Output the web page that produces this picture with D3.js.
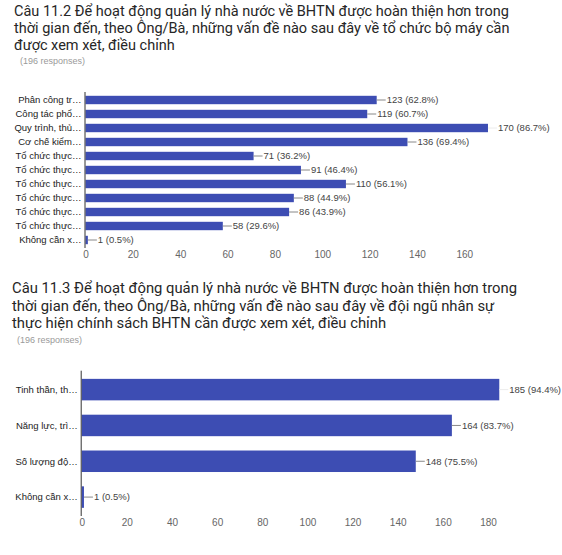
<!DOCTYPE html>
<html><head><meta charset="utf-8">
<script src="https://cdn.jsdelivr.net/npm/d3@7/dist/d3.min.js"></script>
<style>
html,body{margin:0;padding:0;background:#fff;}
svg{display:block;}
</style></head>
<body>
<script>
const title1 = ["Câu 11.2 Để hoạt động quản lý nhà nước về BHTN được hoàn thiện hơn trong",
  "thời gian đến, theo Ông/Bà, những vấn đề nào sau đây về tổ chức bộ máy cần",
  "được xem xét, điều chỉnh"];
const categories1 = ["Phân công tr…","Công tác phổ…","Quy trình, thủ…","Cơ chế kiểm…","Tổ chức thực…","Tổ chức thực…","Tổ chức thực…","Tổ chức thực…","Tổ chức thực…","Tổ chức thực…","Không cần x…"];
const values1 = [123,119,170,136,71,91,110,88,86,58,1];
const percents1 = ["62.8%","60.7%","86.7%","69.4%","36.2%","46.4%","56.1%","44.9%","43.9%","29.6%","0.5%"];
const ticks1 = [0,20,40,60,80,100,120,140,160];

const title2 = ["Câu 11.3 Để hoạt động quản lý nhà nước về BHTN được hoàn thiện hơn trong",
  "thời gian đến, theo Ông/Bà, những vấn đề nào sau đây về đội ngũ nhân sự",
  "thực hiện chính sách BHTN cần được xem xét, điều chỉnh"];
const categories2 = ["Tinh thần, th…","Năng lực, trì…","Số lượng độ…","Không cần x…"];
const values2 = [185,164,148,1];
const percents2 = ["94.4%","83.7%","75.5%","0.5%"];
const ticks2 = [0,20,40,60,80,100,120,140,160,180];
const responses = "(196 responses)";

const svg = d3.select("body").append("svg").attr("width",562).attr("height",555);
const BAR = "#3d4db3";

function drawChart(cfg){
  const g = svg.append("g");
  cfg.title.forEach((t,i)=>{
    g.append("text").attr("x",cfg.titleX).attr("y",cfg.titleY + i*cfg.lineH)
      .attr("font-family","Roboto, 'Noto Sans', sans-serif").attr("font-size",cfg.titleSize)
      .attr("fill","#262626").text(t);
  });
  g.append("text").attr("x",cfg.respX).attr("y",cfg.respY)
    .attr("font-family","'Liberation Sans', Arial, sans-serif").attr("font-size",9)
    .attr("fill","#9a9a9a").text(responses);

  const x = d3.scaleLinear().domain([0,cfg.ticks[cfg.ticks.length-1]]).range(cfg.xRange);
  const y = d3.scaleBand().domain(d3.range(cfg.cats.length)).range(cfg.yRange)
    .paddingInner(0.4).paddingOuter(0.2);
  const maxV = d3.max(cfg.values);

  g.selectAll(".bar").data(cfg.values).join("rect")
    .attr("x",x(0)).attr("y",(d,i)=>y(i)).attr("height",y.bandwidth())
    .attr("width",d=>Math.max(1.5,x(d)-x(0))).attr("fill",BAR);

  g.selectAll(".cat").data(cfg.cats).join("text")
    .attr("x",x(0)-4).attr("y",(d,i)=>y(i)+y.bandwidth()/2).attr("dy","0.35em")
    .attr("text-anchor","end").attr("font-family","'Liberation Sans', Arial, sans-serif")
    .attr("font-size",9.5).attr("fill","#222").text(d=>d);

  g.selectAll(".lead").data(cfg.values).join("line")
    .attr("x1",d=>x(d)+Math.max(0,1.5-(x(d)-x(0)))).attr("x2",d=>x(d)+9)
    .attr("y1",(d,i)=>y(i)+y.bandwidth()/2).attr("y2",(d,i)=>y(i)+y.bandwidth()/2)
    .attr("stroke",d=>d===maxV?"#ececec":"#888").attr("stroke-width",1);

  g.selectAll(".val").data(cfg.values).join("text")
    .attr("x",d=>x(d)+10).attr("y",(d,i)=>y(i)+y.bandwidth()/2).attr("dy","0.35em")
    .attr("font-family","'Liberation Sans', Arial, sans-serif").attr("font-size",9.5)
    .attr("fill","#444").text((d,i)=>d+" ("+cfg.percents[i]+")");

  g.append("line").attr("x1",x(0)-0.5).attr("x2",x(0)-0.5)
    .attr("y1",cfg.yRange[0]-1).attr("y2",cfg.yRange[1]+1)
    .attr("stroke","#333").attr("stroke-width",1);

  const ax = g.append("g").attr("transform",`translate(0,${cfg.tickY})`)
    .call(d3.axisBottom(x).tickValues(cfg.ticks).tickSize(0).tickPadding(0));
  ax.select(".domain").remove();
  ax.selectAll("text").attr("font-family","'Liberation Sans', Arial, sans-serif")
    .attr("font-size",10).attr("fill","#666");
}

drawChart({title:title1,titleX:14,titleY:16,lineH:17,titleSize:14.5,respX:20,respY:64,
  cats:categories1,values:values1,percents:percents1,ticks:ticks1,
  xRange:[85.5,464.3],yRange:[93,247],tickY:251});
drawChart({title:title2,titleX:12,titleY:293,lineH:17.5,titleSize:14.8,respX:17,respY:343,
  cats:categories2,values:values2,percents:percents2,ticks:ticks2,
  xRange:[81.7,488],yRange:[371.7,515],tickY:519});
</script>
</body></html>
